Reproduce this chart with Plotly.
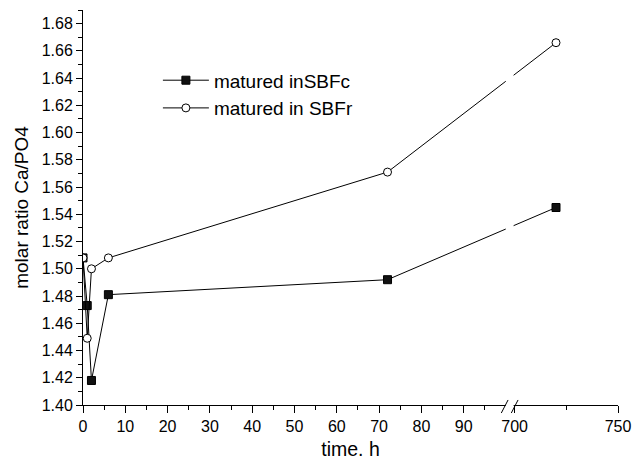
import plotly.graph_objects as go

# Sampling times (hours) and Ca/PO4 molar ratios
time_h = [0, 1, 2, 6, 72, 720]
ratio_sbfc = [1.508, 1.473, 1.418, 1.481, 1.492, 1.545]
ratio_sbfr = [1.508, 1.449, 1.500, 1.508, 1.571, 1.666]

x_major_ticks = [0, 10, 20, 30, 40, 50, 60, 70, 80, 90, 700, 750]
x_minor_ticks = [5, 15, 25, 35, 45, 55, 65, 75, 85, 95, 725]
y_major_ticks = [1.40, 1.42, 1.44, 1.46, 1.48, 1.50, 1.52, 1.54,
                 1.56, 1.58, 1.60, 1.62, 1.64, 1.66, 1.68]

# Broken time axis: 0-100 h at full scale, then 700-750 h compressed
SEG1_END = 100.0
SEG2_START = 700.0
GAP = 2.06
SEG2_SCALE = 0.4886


def to_axis(t):
    if t <= SEG1_END:
        return t
    return SEG1_END + GAP + (t - SEG2_START) * SEG2_SCALE


X_MAX = to_axis(750)
FONT = "Liberation Sans, Arial, Helvetica, sans-serif"

fig = go.Figure()
fig.add_trace(go.Scatter(
    x=[to_axis(t) for t in time_h], y=ratio_sbfc,
    mode="lines+markers", name="matured inSBFc",
    line=dict(color="black", width=1),
    marker=dict(symbol="square", size=8, color="#111111",
                line=dict(color="black", width=1)),
))
fig.add_trace(go.Scatter(
    x=[to_axis(t) for t in time_h], y=ratio_sbfr,
    mode="lines+markers", name="matured in SBFr",
    line=dict(color="black", width=1),
    marker=dict(symbol="circle", size=8, color="white",
                line=dict(color="black", width=1)),
))

# Gap in the data lines and axis at the break, plus the "//" marks
fig.add_shape(type="rect", xref="x", yref="paper",
              x0=to_axis(SEG1_END) - 0.05, x1=to_axis(SEG2_START) - 0.25,
              y0=-0.006, y1=1.0, fillcolor="white", line=dict(width=0),
              layer="above")
for cx in (to_axis(SEG1_END) - 0.3, to_axis(SEG2_START)):
    fig.add_shape(type="line", xref="x", yref="paper",
                  x0=cx - 0.8, x1=cx + 0.8, y0=-0.0203, y1=0.0127,
                  line=dict(color="black", width=1), layer="above")

fig.update_layout(
    width=634, height=460,
    margin=dict(l=83, r=16, t=10, b=55),
    paper_bgcolor="white", plot_bgcolor="white",
    font=dict(family=FONT, color="black", size=16),
    showlegend=True,
    legend=dict(x=0.14, y=0.87, xanchor="left", yanchor="top",
                bgcolor="rgba(0,0,0,0)", borderwidth=0,
                font=dict(size=19, family=FONT), itemwidth=46,
                tracegroupgap=0),
    xaxis=dict(
        range=[0, X_MAX], showgrid=False, zeroline=False,
        showline=True, linecolor="black", linewidth=1,
        ticks="outside", ticklen=7, tickwidth=1, tickcolor="black",
        tickmode="array", tickvals=[to_axis(t) for t in x_major_ticks],
        ticktext=[str(t) for t in x_major_ticks],
        tickfont=dict(size=16),
        minor=dict(tickmode="array",
                   tickvals=[to_axis(t) for t in x_minor_ticks],
                   ticks="outside", ticklen=4, tickcolor="black",
                   showgrid=False),
        title=dict(text="time. h", font=dict(size=19.5), standoff=19),
        automargin=False,
    ),
    yaxis=dict(
        range=[1.40, 1.69], showgrid=False, zeroline=False,
        showline=True, linecolor="black", linewidth=1,
        ticks="outside", ticklen=6, tickwidth=1, tickcolor="black",
        tickmode="array", tickvals=y_major_ticks,
        ticktext=[f"{v:.2f}" for v in y_major_ticks],
        tickfont=dict(size=16),
        minor=dict(dtick=0.01, tick0=1.40, ticks="outside", ticklen=4,
                   tickcolor="black", showgrid=False),
        title=dict(text="molar ratio Ca/PO4", font=dict(size=19),
                   standoff=8),
        automargin=False,
    ),
)

fig.write_html("out.html")
